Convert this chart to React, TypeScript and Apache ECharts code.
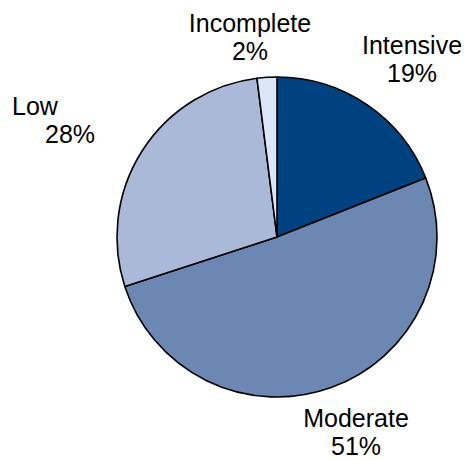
import React, { useEffect, useRef } from "react";
import * as echarts from "echarts";

const categories = ["Intensive", "Moderate", "Low", "Incomplete"];
const values = [19, 51, 28, 2];
const colors = ["#00427f", "#6d87b3", "#abb9d8", "#dce6f8"];

// label anchor positions per slice
const labelPos = [
  { x: 412, y: 59, align: "center" },
  { x: 356, y: 432, align: "center" },
  { x: 12, y: 120, align: "left" },
  { x: 250, y: 37, align: "center" },
];

const FONT = "Liberation Sans, Arial, sans-serif";

export default function App() {
  const ref = useRef<HTMLDivElement>(null);
  useEffect(() => {
    const chart = echarts.init(ref.current!, null, { renderer: "svg" });
    chart.setOption({
      animation: false,
      backgroundColor: "#ffffff",
      series: [
        {
          type: "pie",
          center: [277, 237],
          radius: [0, 160],
          startAngle: 90,
          clockwise: true,
          avoidLabelOverlap: false,
          data: categories.map((name, i) => ({
            name,
            value: values[i],
            itemStyle: { color: colors[i] },
          })),
          itemStyle: { borderColor: "#000000", borderWidth: 1.6 },
          label: {
            show: true,
            position: "outside",
            fontFamily: FONT,
            fontSize: 25,
            color: "#000000",
            lineHeight: 28,
            formatter: (p: any) =>
              p.dataIndex === 2
                ? `{a|${p.name}}\n{b|${Math.round(p.percent)}%}`
                : `${p.name}\n${Math.round(p.percent)}%`,
            rich: {
              a: { fontSize: 25, lineHeight: 28, color: "#000", fontFamily: FONT },
              b: { fontSize: 25, lineHeight: 28, color: "#000", padding: [0, 0, 0, 33], fontFamily: FONT },
            },
          },
          labelLine: { show: false },
          labelLayout: (params: any) => {
            const lp = labelPos[params.dataIndex];
            return { x: lp.x, y: lp.y, align: lp.align, verticalAlign: "middle" };
          },
          emphasis: { disabled: true },
        },
      ],
    });
    return () => chart.dispose();
  }, []);
  return (
    <div
      ref={ref}
      style={{ position: "absolute", left: 0, top: 0, width: 464, height: 460 }}
    />
  );
}
